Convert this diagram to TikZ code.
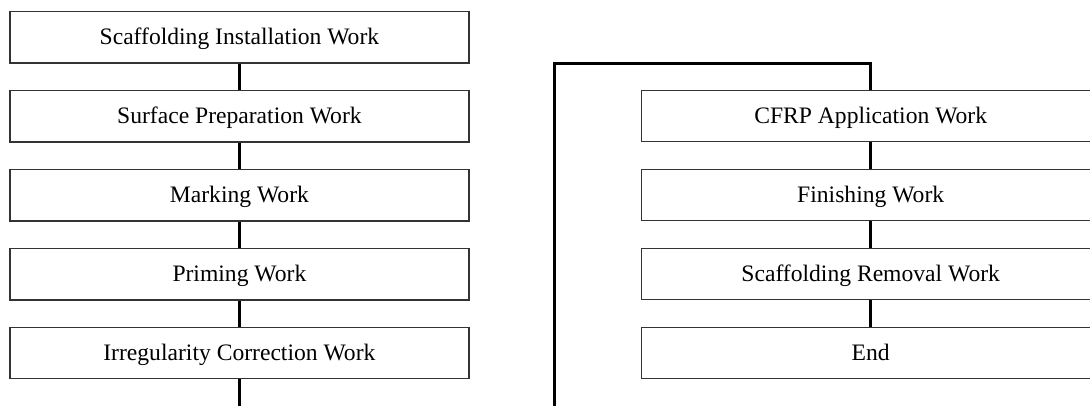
\documentclass[tikz,border=0pt]{standalone}
\usepackage{fontspec}
\setmainfont{Liberation Serif}
\begin{document}
\begin{tikzpicture}[x=1pt,y=-1pt,
  stepbox/.style={draw=black!80,line width=1.2pt,fill=white,minimum width=459pt,
    minimum height=51.5pt,inner sep=0pt,text height=16pt,text depth=1pt,
    font=\fontsize{23.6}{28}\selectfont},
  link/.style={draw=black,line width=2.6pt}]
\useasboundingbox (0,0) rectangle (1090,405);
\clip (0,0) rectangle (1090,405);
% left column
\node[stepbox] (s1) at (239.4,37.2) {Scaffolding Installation Work};
\node[stepbox] (s2) at (239.4,116.2) {Surface Preparation Work};
\node[stepbox] (s3) at (239.4,195.2) {Marking Work};
\node[stepbox] (s4) at (239.4,274.2) {Priming Work};
\node[stepbox] (s5) at (239.4,353) {Irregularity Correction Work};
% right column
\node[stepbox] (r1) at (870.7,116) {CFRP Application Work};
\node[stepbox] (r2) at (870.7,195) {Finishing Work};
\node[stepbox] (r3) at (870.7,274) {Scaffolding Removal Work};
\node[stepbox] (r4) at (870.7,353) {End};
% continuation points at the lower edge
\coordinate (outL) at (239.4,410);
\coordinate (inR) at (554.3,410);
\coordinate (turn) at (554.3,63.3);
% connectors
\draw[link] (s1.south) -- (s2.north);
\draw[link] (s2.south) -- (s3.north);
\draw[link] (s3.south) -- (s4.north);
\draw[link] (s4.south) -- (s5.north);
\draw[link] (s5.south) -- (outL);
\draw[link] (r1.south) -- (r2.north);
\draw[link] (r2.south) -- (r3.north);
\draw[link] (r3.south) -- (r4.north);
\draw[link,line join=miter] (inR) -- (turn) -| (r1.north);
\end{tikzpicture}
\end{document}
